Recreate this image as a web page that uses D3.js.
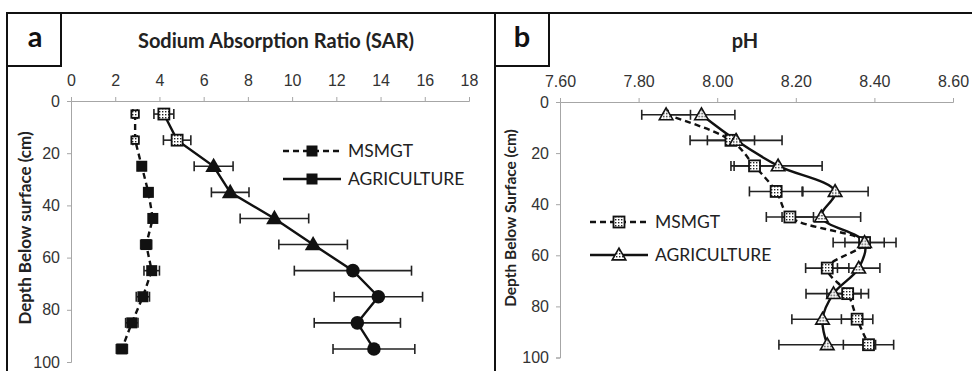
<!DOCTYPE html>
<html>
<head>
<meta charset="utf-8">
<script src="https://cdn.jsdelivr.net/npm/d3@7"></script>
<style>
  body { margin: 0; background: #fff; }
  svg { font-family: Lato, "Open Sans", sans-serif; }
  .axis path, .axis line { stroke: #a6a6a6; }
  .axis text { fill: #333; font-size: 16px; }
</style>
</head>
<body>
<div id="chart"></div>
<script>
// données (profondeur en cm)
var depths = [5, 15, 25, 35, 45, 55, 65, 75, 85, 95];

// panneau a : SAR
var sarMsmgt     = [2.9, 2.9, 3.2, 3.5, 3.7, 3.4, 3.65, 3.25, 2.75, 2.3];
var sarMsmgtErr  = [0.1, 0.1, 0.15, 0.15, 0.15, 0.25, 0.35, 0.3, 0.28, 0.25];
var sarMsmgtSym  = ["pats", "pats", "sq", "sq", "sq", "sq", "sq", "sq", "sq", "sq"];
var sarAgri      = [4.2, 4.8, 6.45, 7.2, 9.2, 10.95, 12.75, 13.9, 12.95, 13.7];
var sarAgriErr   = [0.45, 0.62, 0.88, 0.85, 1.55, 1.55, 2.65, 2.0, 1.95, 1.85];
var sarAgriSym   = ["pat", "pat", "tri", "tri", "tri", "tri", "circ", "circ", "circ", "circ"];
var sarTicks     = [0, 2, 4, 6, 8, 10, 12, 14, 16, 18];

// panneau b : pH
var phMsmgt      = [7.87, 8.035, 8.095, 8.15, 8.185, 8.375, 8.28, 8.332, 8.356, 8.385];
var phMsmgtErr   = [0.062, 0.06, 0.06, 0.068, 0.06, 0.05, 0.055, 0.053, 0.04, 0.064];
var phMsmgtSym   = ["wtri", "pat", "pat", "pat", "pat", "pat", "pat", "pat", "pat", "pat"];
var phAgri       = [7.96, 8.048, 8.155, 8.30, 8.265, 8.375, 8.36, 8.296, 8.268, 8.28];
var phAgriErr    = [0.085, 0.117, 0.112, 0.084, 0.10, 0.08, 0.054, 0.07, 0.078, 0.123];
var phTicks      = [7.6, 7.8, 8.0, 8.2, 8.4, 8.6];
var depthTicks   = [0, 20, 40, 60, 80, 100];

var svg = d3.select("#chart").append("svg")
    .attr("width", 972)
    .attr("height", 371);

// motif pointillé des marqueurs
var pat = svg.append("defs").append("pattern")
    .attr("id", "dots")
    .attr("patternUnits", "userSpaceOnUse")
    .attr("width", 3).attr("height", 3);
pat.append("rect").attr("width", 3).attr("height", 3).attr("fill", "#fff");
pat.append("rect").attr("width", 1.4).attr("height", 1.4).attr("fill", "#222");

// cadre
svg.append("path")
    .attr("d", "M7,371 V13 H972 M495,13 V371 M7,66 H61 V13 M495,66 H549 V13")
    .attr("fill", "none").attr("stroke", "#111").attr("stroke-width", 2);

function drawSymbol(g, type, x, y) {
  if (type === "sq") {
    g.append("rect").attr("x", x - 5.5).attr("y", y - 5.5).attr("width", 11).attr("height", 11)
      .attr("fill", "#111");
  } else if (type === "pat" || type === "pats") {
    var s = type === "pat" ? 11 : 7.5;
    g.append("rect").attr("x", x - s / 2).attr("y", y - s / 2).attr("width", s).attr("height", s)
      .attr("fill", "url(#dots)").attr("stroke", "#111").attr("stroke-width", 1.8);
  } else if (type === "tri") {
    g.append("path").attr("d", d3.symbol(d3.symbolTriangle, 120)())
      .attr("transform", "translate(" + x + "," + (y + 1) + ")").attr("fill", "#111");
  } else if (type === "wtri") {
    g.append("path").attr("d", d3.symbol(d3.symbolTriangle, 80)())
      .attr("transform", "translate(" + x + "," + (y + 1) + ")")
      .attr("fill", "url(#dots)").attr("stroke", "#111").attr("stroke-width", 1.6);
  } else if (type === "circ") {
    g.append("circle").attr("cx", x).attr("cy", y).attr("r", 6.8).attr("fill", "#111");
  }
}

function drawPanel(opt) {
  var x = d3.scaleLinear().domain(opt.xDomain).range(opt.xRange);
  var y = d3.scaleLinear().domain([0, 100]).range(opt.yRange);
  var g = svg.append("g");

  g.append("g").attr("class", "axis")
      .attr("transform", "translate(0," + opt.yRange[0] + ")")
      .call(d3.axisTop(x).tickValues(opt.xTicks).tickFormat(opt.xFormat).tickSize(4).tickSizeOuter(4).tickPadding(11))
      .call(function(a) { a.select(".domain").attr("stroke", "#a6a6a6"); });
  g.append("g").attr("class", "axis")
      .attr("transform", "translate(" + opt.xRange[0] + ",0)")
      .call(d3.axisLeft(y).tickValues(depthTicks).tickSize(4).tickSizeOuter(4).tickPadding(7));

  g.append("text")
      .attr("x", opt.titleX).attr("y", 48)
      .attr("text-anchor", "middle")
      .style("font-weight", "bold").style("font-size", "20px").style("fill", "#222")
      .text(opt.title);
  g.append("text")
      .attr("transform", "translate(" + opt.yTitleX + "," + opt.yTitleY + ") rotate(-90)")
      .attr("text-anchor", "middle")
      .style("font-weight", "bold").style("font-size", opt.yTitleSize).style("fill", "#222")
      .text(opt.yTitle);
  g.append("text")
      .attr("x", opt.letterX).attr("y", 47)
      .attr("text-anchor", "middle")
      .style("font-weight", "bold").style("font-size", "29px").style("fill", "#111")
      .text(opt.letter);

  opt.series.forEach(function(s) {
    var pts = depths.map(function(d, i) { return [x(s.values[i]), y(d)]; });
    var line = d3.line().curve(opt.curve);
    // barres d'erreur
    var eg = g.append("g").attr("stroke", "#222").attr("stroke-width", 1.6);
    depths.forEach(function(d, i) {
      var x0 = x(s.values[i] - s.err[i]), x1 = x(s.values[i] + s.err[i]), yy = y(d);
      eg.append("line").attr("x1", x0).attr("x2", x1).attr("y1", yy).attr("y2", yy);
      eg.append("line").attr("x1", x0).attr("x2", x0).attr("y1", yy - 5).attr("y2", yy + 5);
      eg.append("line").attr("x1", x1).attr("x2", x1).attr("y1", yy - 5).attr("y2", yy + 5);
    });
    g.append("path").attr("d", line(pts))
      .attr("fill", "none").attr("stroke", "#111").attr("stroke-width", 2.4)
      .attr("stroke-dasharray", s.dash);
  });
  opt.series.forEach(function(s) {
    var mg = g.append("g");
    depths.forEach(function(d, i) {
      drawSymbol(mg, s.sym[i], x(s.values[i]), y(d));
    });
  });

  // légende
  opt.legend.forEach(function(l) {
    g.append("line").attr("x1", l.x).attr("x2", l.x + 58).attr("y1", l.y).attr("y2", l.y)
      .attr("stroke", "#111").attr("stroke-width", 2.4).attr("stroke-dasharray", l.dash);
    drawSymbol(g, l.sym, l.x + 29, l.y);
    g.append("text").attr("x", l.x + 65).attr("y", l.y).attr("dy", "0.35em")
      .style("font-size", "17.5px").style("fill", "#222")
      .text(l.label);
  });
}

drawPanel({
  xDomain: [0, 18], xRange: [71, 469], yRange: [101, 362],
  xTicks: sarTicks, xFormat: d3.format("d"),
  title: "Sodium Absorption Ratio (SAR)", titleX: 276,
  yTitle: "Depth Below surface (cm)", yTitleX: 31, yTitleY: 228, yTitleSize: "17px",
  letter: "a", letterX: 35,
  curve: d3.curveLinear,
  series: [
    { values: sarMsmgt, err: sarMsmgtErr, sym: sarMsmgtSym, dash: "6,4" },
    { values: sarAgri, err: sarAgriErr, sym: sarAgriSym, dash: null }
  ],
  legend: [
    { x: 283, y: 151, sym: "sq", dash: "6,4", label: "MSMGT" },
    { x: 283, y: 179, sym: "sq", dash: null, label: "AGRICULTURE" }
  ]
});

drawPanel({
  xDomain: [7.6, 8.6], xRange: [560, 953], yRange: [102, 357.5],
  xTicks: phTicks, xFormat: d3.format(".2f"),
  title: "pH", titleX: 745,
  yTitle: "Depth Below Surface (cm)", yTitleX: 515.5, yTitleY: 218, yTitleSize: "15.5px",
  letter: "b", letterX: 522,
  curve: d3.curveCatmullRom.alpha(0.5),
  series: [
    { values: phMsmgt, err: phMsmgtErr, sym: phMsmgtSym, dash: "6,4" },
    { values: phAgri, err: phAgriErr, sym: depths.map(function() { return "wtri"; }), dash: null }
  ],
  legend: [
    { x: 590, y: 222, sym: "pat", dash: "6,4", label: "MSMGT" },
    { x: 590, y: 255, sym: "wtri", dash: null, label: "AGRICULTURE" }
  ]
});
</script>
</body>
</html>
